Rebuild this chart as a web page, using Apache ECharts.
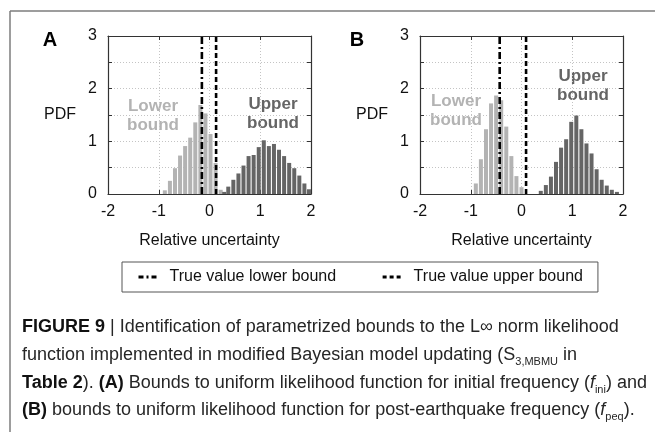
<!DOCTYPE html>
<html>
<head>
<meta charset="utf-8">
<script src="https://cdn.jsdelivr.net/npm/echarts@6/dist/echarts.min.js"></script>
<style>
  html, body { margin: 0; padding: 0; background: #fff; }
  #chart { width: 655px; height: 432px; }
</style>
</head>
<body>
<div id="chart"></div>
<script>
// Axis ticks and their labels
const xTickValues = [-2, -1, 0, 1, 2];
const xTickLabels = ['-2', '-1', '0', '1', '2'];
const yTickValues = [0, 1, 2, 3];
const yTickLabels = ['0', '1', '2', '3'];

// (A) initial frequency: histogram bin centres and PDF heights
const aLowerX = [-0.88, -0.78, -0.68, -0.58, -0.48, -0.38, -0.28, -0.18, -0.08, 0.02, 0.12, 0.22];
const aLowerY = [0.07, 0.25, 0.49, 0.73, 0.91, 1.07, 1.36, 1.69, 1.53, 1.14, 0.59, 0.08];
const aUpperX = [0.29, 0.37, 0.47, 0.57, 0.67, 0.77, 0.87, 0.97, 1.07, 1.17, 1.27, 1.37, 1.47, 1.57, 1.67, 1.77, 1.87, 1.96];
const aUpperY = [0.04, 0.14, 0.27, 0.39, 0.54, 0.72, 0.74, 0.89, 1.02, 0.91, 0.95, 0.84, 0.72, 0.59, 0.49, 0.35, 0.20, 0.09];
const aTrueLower = -0.15;
const aTrueUpper = 0.13;

// (B) post-earthquake frequency
const bLowerX = [-0.9, -0.8, -0.7, -0.6, -0.5, -0.4, -0.3, -0.2, -0.1, 0.0];
const bLowerY = [0.20, 0.66, 1.23, 1.72, 1.87, 1.78, 1.28, 0.72, 0.34, 0.13];
const bUpperX = [0.38, 0.48, 0.58, 0.68, 0.78, 0.88, 0.98, 1.08, 1.18, 1.28, 1.38, 1.48, 1.58, 1.68, 1.78, 1.88];
const bUpperY = [0.06, 0.17, 0.33, 0.61, 0.88, 1.04, 1.37, 1.49, 1.23, 0.96, 0.77, 0.47, 0.27, 0.16, 0.08, 0.04];
const bTrueLower = -0.43;
const bTrueUpper = 0.09;

const legendNames = ['True value lower bound', 'True value upper bound'];

const FONT = 'Liberation Sans, Arial, sans-serif';
const LIGHT = '#b3b3b3';
const DARK = '#656565';
const DASH_DOT = [7, 3, 2, 3];
const DASHED = [5, 3];

const pairs = (xs, ys) => xs.map((x, i) => [x, ys[i]]);

const grids = [
  { left: 108, top: 36, width: 203, height: 158 },
  { left: 420, top: 36, width: 203, height: 158 }
];

const frameLine = { show: true, onZero: false, lineStyle: { color: '#333', width: 1.2 } };
const tick = { show: true, inside: true, length: 4, lineStyle: { color: '#333' } };
const gridDots = { show: true, lineStyle: { color: '#c4c4c4', type: [1, 2], width: 1 } };

const xAxes = [];
const yAxes = [];
grids.forEach((g, gi) => {
  xAxes.push({
    type: 'value', gridIndex: gi, position: 'bottom', min: -2, max: 2, interval: 1,
    axisLine: frameLine, axisTick: tick, splitLine: gridDots,
    axisLabel: {
      margin: 10, fontFamily: FONT, fontSize: 16, color: '#111',
      formatter: v => { const i = xTickValues.indexOf(v); return i >= 0 ? xTickLabels[i] : ''; }
    },
    name: 'Relative uncertainty', nameLocation: 'middle', nameGap: 39,
    nameTextStyle: { fontFamily: FONT, fontSize: 16, color: '#111' }
  });
  xAxes.push({
    type: 'value', gridIndex: gi, position: 'top', min: -2, max: 2, interval: 1,
    axisLine: frameLine, axisTick: tick, splitLine: { show: false }, axisLabel: { show: false }
  });
  yAxes.push({
    type: 'value', gridIndex: gi, position: 'left', min: 0, max: 3, interval: 0.5,
    axisLine: frameLine, axisTick: tick, splitLine: gridDots,
    axisLabel: {
      margin: 11, fontFamily: FONT, fontSize: 16, color: '#111',
      formatter: v => { const i = yTickValues.indexOf(v); return i >= 0 ? yTickLabels[i] : ''; }
    },
    name: 'PDF', nameLocation: 'middle', nameRotate: 0, nameGap: 32,
    nameTextStyle: { fontFamily: FONT, fontSize: 16, color: '#111', align: 'right' }
  });
  yAxes.push({
    type: 'value', gridIndex: gi, position: 'right', min: 0, max: 3, interval: 0.5,
    axisLine: frameLine, axisTick: tick, splitLine: { show: false }, axisLabel: { show: false }
  });
});

function barSeries(gi, xs, ys, color) {
  return {
    type: 'bar', xAxisIndex: gi * 2, yAxisIndex: gi * 2,
    data: pairs(xs, ys), barWidth: 4, barGap: '-100%',
    itemStyle: { color: color }, silent: true, z: 2
  };
}
function trueLine(gi, x, name, dash) {
  return {
    type: 'line', name: name, xAxisIndex: gi * 2, yAxisIndex: gi * 2,
    data: [[x, 0], [x, 3]], symbol: 'none', silent: true, z: 5,
    itemStyle: { color: '#000' },
    lineStyle: { color: '#000', width: 2.6, type: dash }
  };
}

const series = [
  barSeries(0, aLowerX, aLowerY, LIGHT),
  barSeries(0, aUpperX, aUpperY, DARK),
  barSeries(1, bLowerX, bLowerY, LIGHT),
  barSeries(1, bUpperX, bUpperY, DARK),
  trueLine(0, aTrueLower, legendNames[0], DASH_DOT),
  trueLine(0, aTrueUpper, legendNames[1], DASHED),
  trueLine(1, bTrueLower, legendNames[0], DASH_DOT),
  trueLine(1, bTrueUpper, legendNames[1], DASHED)
];

function label(x, y, text, opts) {
  return {
    type: 'text', x: x, y: y, silent: true,
    style: Object.assign({
      text: text, fontFamily: FONT, fontSize: 16, fill: '#000',
      align: 'center', verticalAlign: 'middle'
    }, opts || {})
  };
}
function bandText(x, y, text, color) {
  return label(x, y, text, { fill: color, fontWeight: 'bold', fontSize: 17, lineHeight: 19 });
}

const CAP_SIZE = 18;
const CAP_INK = '#262626';
const capBase = { fontFamily: FONT, fontSize: CAP_SIZE, fill: CAP_INK, lineHeight: 24 };
const capRich = {
  b: { fontFamily: FONT, fontSize: CAP_SIZE, fontWeight: 'bold', fill: '#111', lineHeight: 24 },
  i: { fontFamily: FONT, fontSize: CAP_SIZE, fontStyle: 'italic', fill: CAP_INK, lineHeight: 24 },
  sub: { fontFamily: FONT, fontSize: 11, fill: CAP_INK, lineHeight: 12, verticalAlign: 'bottom' }
};
function capLine(y, text) {
  return {
    type: 'text', x: 22, y: y, silent: true,
    style: Object.assign({ text: text, rich: capRich, align: 'left', verticalAlign: 'middle' }, capBase)
  };
}

const graphic = [
  { type: 'line', silent: true, shape: { x1: 10, y1: 11, x2: 655, y2: 11 }, style: { stroke: '#7d7d7d', lineWidth: 1.5 } },
  { type: 'line', silent: true, shape: { x1: 10, y1: 11, x2: 10, y2: 432 }, style: { stroke: '#7d7d7d', lineWidth: 1.5 } },
  label(50, 40, 'A', { fontWeight: 'bold', fontSize: 20 }),
  label(357, 40, 'B', { fontWeight: 'bold', fontSize: 20 }),
  bandText(153, 116, 'Lower\nbound', LIGHT),
  bandText(273, 114, 'Upper\nbound', DARK),
  bandText(456, 111, 'Lower\nbound', LIGHT),
  bandText(583, 86, 'Upper\nbound', DARK),
  capLine(327, '{b|FIGURE 9} | Identification of parametrized bounds to the L\u221e norm likelihood'),
  capLine(355, 'function implemented in modified Bayesian model updating (S{sub|3,MBMU} in'),
  capLine(383, '{b|Table 2}). {b|(A)} Bounds to uniform likelihood function for initial frequency ({i|f}{sub|ini}) and'),
  capLine(410, '{b|(B)} bounds to uniform likelihood function for post-earthquake frequency ({i|f}{sub|peq}).')
];

const chart = echarts.init(document.getElementById('chart'), null, { renderer: 'canvas' });
chart.setOption({
  animation: false,
  backgroundColor: '#fff',
  grid: grids,
  xAxis: xAxes,
  yAxis: yAxes,
  legend: {
    data: [
      { name: legendNames[0], lineStyle: { type: [5, 3, 2, 3] } },
      { name: legendNames[1], lineStyle: { type: [4, 3] } }
    ],
    left: 122, top: 262,
    padding: [7, 15, 7, 15],
    itemGap: 45, itemWidth: 18, itemHeight: 10,
    borderColor: '#555', borderWidth: 1,
    selectedMode: false,
    itemStyle: { color: 'rgba(0,0,0,0)', borderColor: 'rgba(0,0,0,0)', borderWidth: 0 },
    lineStyle: { color: '#000', width: 3 },
    textStyle: { fontFamily: FONT, fontSize: 16, color: '#111', padding: [0, 0, 0, 8] }
  },
  series: series,
  graphic: graphic
});
</script>
</body>
</html>
